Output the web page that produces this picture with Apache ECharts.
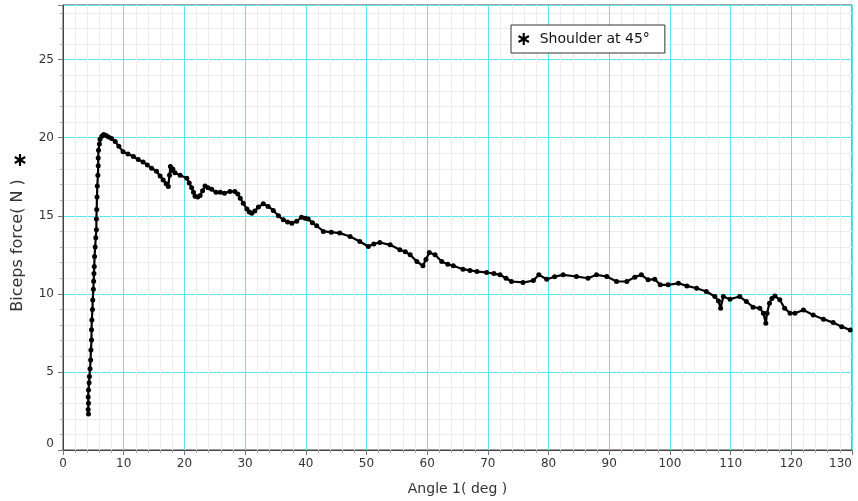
<!DOCTYPE html>
<html>
<head>
<meta charset="utf-8">
<script src="https://cdn.jsdelivr.net/npm/echarts@6/dist/echarts.min.js"></script>
<style>
  html, body { margin: 0; padding: 0; background: #fff; }
  #chart { width: 858px; height: 501px; }
</style>
</head>
<body>
<div id="chart"></div>
<script>
// angle (deg) and biceps force (N)
const angle = [
  4.2, 4.15, 4.2, 4.15, 4.2, 4.3, 4.35, 4.45, 4.55, 4.6, 4.7, 4.7, 4.75, 4.85, 4.9,
  5.0, 5.05, 5.1, 5.15, 5.2, 5.3, 5.4, 5.5, 5.5, 5.55, 5.6, 5.65, 5.75, 5.8, 5.8,
  5.85, 6.0, 6.1, 6.4, 6.7, 7.1, 7.5, 8.0, 8.6, 9.2, 9.9, 10.7, 11.6, 12.4, 13.2,
  13.9, 14.6, 15.4, 16.0, 16.5, 17.0, 17.35, 17.55, 17.7, 17.9, 18.1, 18.45, 19.3, 20.4, 20.8,
  21.2, 21.5, 21.75, 22.2, 22.6, 23.0, 23.4, 23.9, 24.5, 25.2, 25.9, 26.6, 27.5, 28.3, 28.8,
  29.2, 29.7, 30.3, 30.7, 31.1, 31.6, 32.2, 33.0, 33.8, 34.65, 35.5, 36.3, 37.0, 37.7, 38.5,
  39.3, 39.9, 40.4, 41.1, 41.8, 42.9, 44.2, 45.6, 47.3, 48.9, 50.3, 51.2, 52.2, 53.9, 55.5,
  56.4, 57.2, 58.3, 59.3, 59.8, 60.35, 61.3, 62.4, 63.4, 64.3, 65.9, 67.05, 68.2, 69.8, 71.0,
  72.0, 73.0, 73.9, 75.8, 77.5, 78.4, 79.7, 81.0, 82.4, 84.6, 86.5, 87.9, 89.6, 91.2, 92.9,
  94.2, 95.3, 96.4, 97.5, 98.4, 99.7, 101.4, 102.8, 104.4, 106.0, 107.4, 108.0, 108.35, 108.8, 109.9,
  111.5, 112.6, 113.7, 114.8, 115.4, 115.8, 116.0, 116.4, 116.8, 117.3, 118.1, 118.9, 119.8, 120.6, 122.0,
  123.6, 125.3, 126.9, 128.3, 129.7
];
const force = [
  2.3, 2.6, 3.0, 3.4, 3.85, 4.3, 4.7, 5.2, 5.77, 6.4, 7.05, 7.7, 8.33, 9.0, 9.6,
  10.3, 10.8, 11.3, 11.75, 12.4, 13.0, 13.6, 14.1, 14.8, 15.4, 16.2, 16.9, 17.6, 18.2, 18.7,
  19.2, 19.6, 19.9, 20.1, 20.2, 20.15, 20.05, 19.95, 19.75, 19.45, 19.1, 18.95, 18.8, 18.6, 18.45,
  18.25, 18.05, 17.85, 17.55, 17.3, 17.05, 16.88, 17.6, 18.15, 17.9, 18.0, 17.75, 17.6, 17.4, 17.1,
  16.8, 16.5, 16.25, 16.2, 16.3, 16.6, 16.9, 16.8, 16.7, 16.5, 16.5, 16.45, 16.56, 16.56, 16.4,
  16.13, 15.8, 15.43, 15.25, 15.17, 15.3, 15.56, 15.77, 15.6, 15.34, 15.0, 14.74, 14.6, 14.53, 14.65,
  14.91, 14.85, 14.79, 14.55, 14.36, 14.0, 13.95, 13.89, 13.67, 13.35, 13.03, 13.2, 13.29, 13.14, 12.82,
  12.7, 12.5, 12.07, 11.8, 12.2, 12.65, 12.5, 12.07, 11.9, 11.8, 11.58, 11.5, 11.43, 11.37, 11.3,
  11.22, 11.0, 10.79, 10.73, 10.85, 11.22, 10.94, 11.1, 11.22, 11.11, 11.0, 11.22, 11.11, 10.79, 10.79,
  11.07, 11.22, 10.9, 10.94, 10.58, 10.58, 10.68, 10.51, 10.36, 10.15, 9.83, 9.55, 9.08, 9.83, 9.66,
  9.83, 9.51, 9.15, 9.08, 8.76, 8.12, 8.76, 9.4, 9.7, 9.87, 9.62, 9.08, 8.76, 8.76, 8.97,
  8.65, 8.38, 8.16, 7.9, 7.69
];
const seriesName = 'Shoulder at 45°';
const xTitle = 'Angle 1( deg )';
const yTitle = 'Biceps force( N )';

// six-armed asterisk used for the legend
const STAR = 'M8.2 0L11.8 0L11.8 20L8.2 20Z M17.76 3.44L19.56 6.56L2.24 16.56L0.44 13.44Z M19.56 13.44L17.76 16.56L0.44 6.56L2.24 3.44Z';

const FONT = 'DejaVu Sans';
const MAJOR = '#5ae6ee';
const MINOR = '#ececec';

const chart = echarts.init(document.getElementById('chart'), null, { renderer: 'canvas' });

const points = angle.map((a, i) => [a, force[i]]);

// asterisk beside the y title, built from three bars
function starBar(rot) {
  return {
    type: 'rect',
    rotation: rot,
    shape: { x: -1.1, y: -6, width: 2.2, height: 12 },
    style: { fill: '#000' },
  };
}

const option = {
  animation: false,
  backgroundColor: '#fff',
  grid: {
    left: 63,
    right: 6,
    top: 5,
    bottom: 51,
    show: true,
    borderColor: '#444',
    borderWidth: 1,
  },
  legend: {
    left: 511,
    top: 25,
    padding: [7, 15, 7, 7],
    borderColor: '#333',
    borderWidth: 1,
    backgroundColor: '#fff',
    itemWidth: 12,
    itemHeight: 12,
    textStyle: { fontFamily: FONT, fontSize: 14, color: '#111', padding: [0, 0, 0, 5] },
    data: [{ name: seriesName, icon: 'path://' + STAR }],
  },
  xAxis: {
    type: 'value',
    min: 0,
    max: 130,
    interval: 10,
    name: xTitle,
    nameLocation: 'middle',
    nameGap: 32,
    nameTextStyle: { fontFamily: FONT, fontSize: 14, color: '#333' },
    axisLine: { show: true, lineStyle: { color: '#444', width: 1 } },
    axisTick: { show: true, length: 5, lineStyle: { color: '#777' } },
    minorTick: { show: true, splitNumber: 5, length: 3, lineStyle: { color: '#aaa' } },
    axisLabel: {
      fontFamily: FONT, fontSize: 12, color: '#333', margin: 8,
      alignMaxLabel: 'right',
    },
    splitLine: { show: true, lineStyle: { color: MAJOR, width: 1 } },
    minorSplitLine: { show: true, lineStyle: { color: MINOR, width: 1 } },
  },
  yAxis: {
    type: 'value',
    min: 0,
    max: 28.5,
    interval: 5,
    name: yTitle,
    nameLocation: 'middle',
    nameGap: 37,
    nameRotate: 90,
    nameTextStyle: { fontFamily: FONT, fontSize: 16, color: '#333', padding: [0, 36, 0, 0] },
    axisLine: { show: true, lineStyle: { color: '#444', width: 1 } },
    axisTick: { show: true, length: 5, lineStyle: { color: '#777' } },
    minorTick: { show: true, splitNumber: 5, length: 3, lineStyle: { color: '#aaa' } },
    axisLabel: {
      fontFamily: FONT, fontSize: 12, color: '#333', margin: 9,
      showMaxLabel: false,
      verticalAlignMinLabel: 'bottom',
    },
    splitLine: { show: true, lineStyle: { color: MAJOR, width: 1 } },
    minorSplitLine: { show: true, lineStyle: { color: MINOR, width: 1 } },
  },
  graphic: [
    {
      type: 'group',
      x: 20,
      y: 160,
      children: [starBar(0), starBar(Math.PI / 3), starBar(-Math.PI / 3)],
    },
  ],
  series: [
    {
      name: seriesName,
      type: 'line',
      data: points,
      symbol: 'circle',
      symbolSize: 5,
      showSymbol: true,
      color: '#000',
      lineStyle: { color: '#000', width: 2.2 },
      itemStyle: { color: '#000' },
      z: 5,
    },
  ],
};

chart.setOption(option);
</script>
</body>
</html>
